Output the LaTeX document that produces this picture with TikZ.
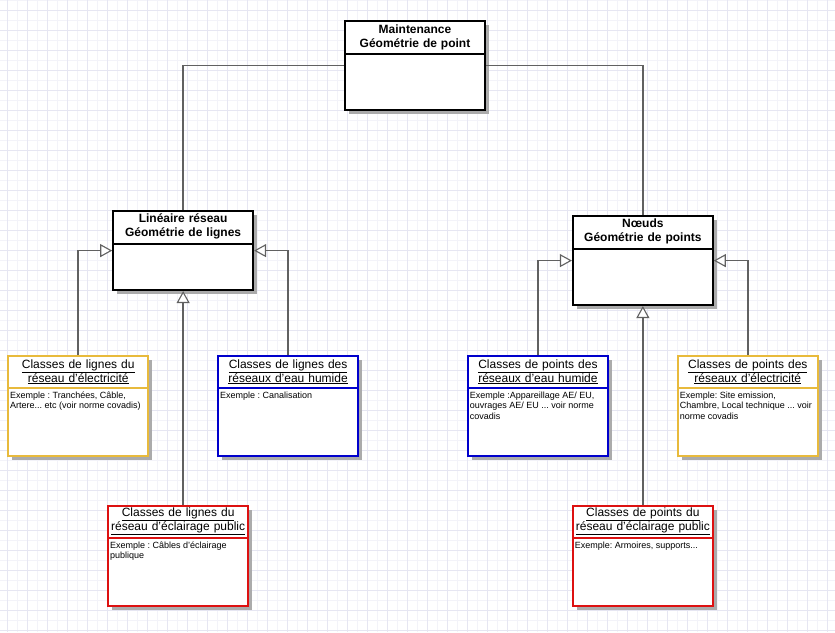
\documentclass[tikz,border=0pt]{standalone}
\usepackage{fontspec}
\setmainfont{Liberation Sans}
\usetikzlibrary{arrows.meta,shadows,positioning}
\frenchspacing

\definecolor{gelb}{RGB}{232,186,60}
\definecolor{blau}{RGB}{0,0,204}
\definecolor{rot}{RGB}{221,17,17}
\definecolor{gitterfarbe}{RGB}{230,230,242}

\begin{document}
\begin{tikzpicture}[x=1pt,y=-1pt,
	linie/.style={draw=black!62,line width=1.5pt},
	erbe/.style={linie,-{Triangle[length=12pt,width=13pt,fill=white,line width=1.1pt]}},
	kasten/.style={draw=#1,line width=2pt,fill=white,anchor=north west,inner sep=0pt,
		minimum width=140pt,
		drop shadow={shadow xshift=4pt,shadow yshift=-4pt,fill=black!33,opacity=1}},
	kopf/.style={inner sep=0pt,minimum height=33pt,text width=140pt,align=center,
		font=\fontsize{12}{14}\selectfont},
	inhalt/.style={inner sep=0pt,align=left,font=\fontsize{9}{10.5}\selectfont}]

% Hintergrund mit Raster
\fill[white] (0,0) rectangle (835,632);
\foreach \x in {7,17,...,827}{
	\draw[gitterfarbe!50,line width=0.5pt] (\x,0)--(\x,632);
}
\foreach \y in {0,10,...,630}{
	\draw[gitterfarbe!50,line width=0.5pt] (0,\y)--(835,\y);
}
\foreach \x in {7,27,...,827}{
	\draw[gitterfarbe,line width=0.5pt] (\x,0)--(\x,632);
}
\foreach \y in {10,30,...,630}{
	\draw[gitterfarbe,line width=0.5pt] (0,\y)--(835,\y);
}
\useasboundingbox (0,0) rectangle (835,632);

% Name, x, y, Hoehe, Titel
\def\eltern#1#2#3#4#5{
	\node[kasten=black,minimum height=#4] (#1) at (#2,#3) {};
	\node[kopf,font=\fontsize{12}{14}\selectfont\bfseries,below=0pt of #1.north] (#1kopf) {#5};
	\draw[line width=2pt] (#1kopf.south -| #1.west)--(#1kopf.south -| #1.east);
}
% Name, x, y, Farbe, Titel, Text
\def\klasse#1#2#3#4#5#6{
	\node[kasten=#4,minimum height=100pt] (#1) at (#2,#3) {};
	\node[kopf,below=0pt of #1.north] (#1kopf) {#5};
	\draw[line width=2pt,#4] (#1kopf.south -| #1.west)--(#1kopf.south -| #1.east);
	\node[inhalt,below right=3pt and 2pt of #1kopf.south west] (#1text) {#6};
}

\eltern{maint}{344}{20}{89pt}{Maintenance\\G\'eom\'etrie de point}
\eltern{lin}{112}{210}{79pt}{Lin\'eaire r\'eseau\\G\'eom\'etrie de lignes}
\eltern{noeuds}{572}{215}{89pt}{N\oe uds\\G\'eom\'etrie de points}

\klasse{lelec}{7}{355}{gelb}{\underline{Classes de lignes du}\\\underline{r\'eseau d'\'electricit\'e}}
	{Exemple : Tranch\'ees, C\^able,\\Artere... etc (voir norme covadis)}
\klasse{leau}{217}{355}{blau}{\underline{Classes de lignes des}\\\underline{r\'eseaux d'eau humide}}
	{Exemple : Canalisation}
\klasse{peau}{467}{355}{blau}{\underline{Classes de points des}\\\underline{r\'eseaux d'eau humide}}
	{Exemple :Appareillage AE/ EU,\\ouvrages AE/ EU ... voir norme\\covadis}
\klasse{pelec}{677}{355}{gelb}{\underline{Classes de points des}\\\underline{r\'eseaux d'\'electricit\'e}}
	{Exemple: Site emission,\\Chambre, Local technique ... voir\\norme covadis}
\klasse{lpub}{107}{505}{rot}{\underline{Classes de lignes du}\\\underline{r\'eseau d'\'eclairage public}}
	{Exemple : C\^ables d'\'eclairage\\publique}
\klasse{ppub}{572}{505}{rot}{\underline{Classes de points du}\\\underline{r\'eseau d'\'eclairage public}}
	{Exemple: Armoires, supports...}

% Verbindungen
\draw[linie] (maint.west) -| (lin.north);
\draw[linie] (maint.east) -| (noeuds.north);

\draw[erbe] (lelec.north) |- (lin.west);
\draw[erbe] (leau.north) |- (lin.east);
\draw[erbe] (lpub.north -| lin.south) -- (lin.south);

\draw[erbe] (peau.north) |- (noeuds.west);
\draw[erbe] (pelec.north) |- (noeuds.east);
\draw[erbe] (ppub.north -| noeuds.south) -- (noeuds.south);

\end{tikzpicture}
\end{document}
